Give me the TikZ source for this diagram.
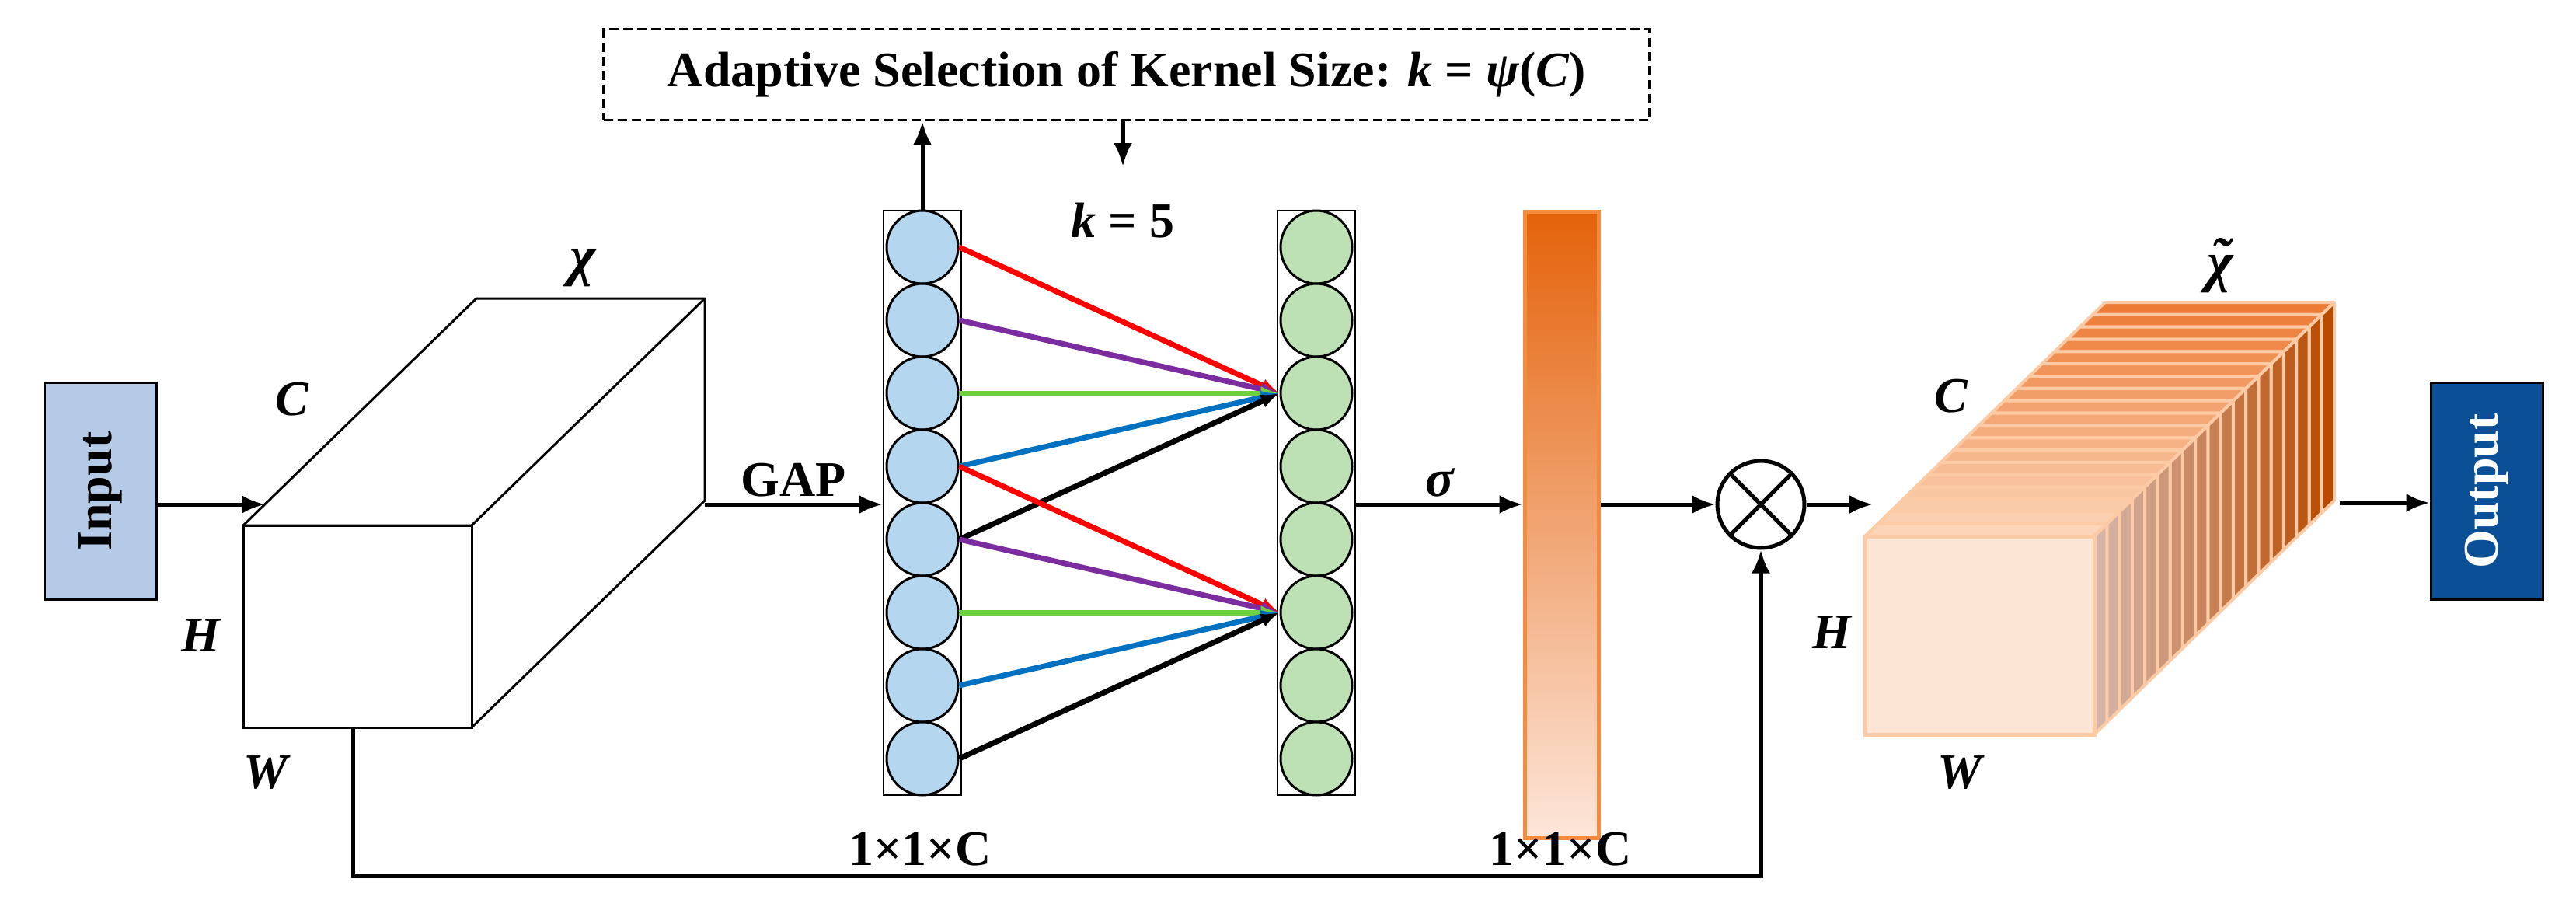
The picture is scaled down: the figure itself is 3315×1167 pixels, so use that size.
\documentclass[tikz,border=0pt]{standalone}
\usepackage{fontspec}
\setmainfont{Liberation Serif}
\usetikzlibrary{arrows.meta,shapes.geometric}
\definecolor{inblue}{HTML}{B4CAE6}
\definecolor{outblue}{HTML}{0B4F96}
\definecolor{cblue}{HTML}{B4D6EF}
\definecolor{cgreen}{HTML}{BDE1B4}
\definecolor{obar}{HTML}{F58B3F}
\definecolor{otop}{HTML}{E4620A}
\definecolor{obot}{HTML}{FDE6DA}
\definecolor{peach}{HTML}{FCCBA6}
\definecolor{pfront}{HTML}{FDE5D6}
\definecolor{sfront}{HTML}{D4B5A8}
\definecolor{sback}{HTML}{B94A00}
\definecolor{tfront}{HTML}{FCD5B8}
\definecolor{tback}{HTML}{EC7B35}
\definecolor{lpurple}{HTML}{7B2C9E}
\definecolor{lgreen}{HTML}{6FCF3F}
\definecolor{lblue}{HTML}{0070C0}
\begin{document}
\begin{tikzpicture}[x=1pt,y=-1pt,
  lbl/.style={font=\fontsize{64}{70}\selectfont\bfseries},
  ilbl/.style={font=\fontsize{64}{70}\selectfont\bfseries\itshape},
  arr/.style={line width=5, -{Latex[length=30,width=24]}},
  carr/.style={line width=7, -{Latex[length=24,width=18]}},
  circ/.style={ellipse, draw, line width=3, minimum width=92, minimum height=94, inner sep=0}]
\useasboundingbox (0,0) rectangle (3315,1167);
% Input / Output
\node[draw, line width=3, fill=inblue, minimum width=279, minimum height=144, inner sep=0, lbl, rotate=90] (in) at (129,632) {Input};
\node[draw, line width=3, fill=outblue, minimum width=279, minimum height=144, inner sep=0, lbl, rotate=90, text=white] (out) at (3200,632) {Output};
% grey cuboid
\draw[line width=3, fill=white, line join=round] (313,676) -- (613,384) -- (907,384) -- (907,644) -- (607,936) -- (607,676) -- cycle;
\draw[line width=3] (607,676) -- (907,384);
\draw[line width=3, fill=white] (313,676) rectangle (607,936);
\coordinate (cubin) at (341,649);
\coordinate (cubout) at (907,649);
\coordinate (cubbot) at (454,936);
\node[ilbl, font=\fontsize{72}{80}\selectfont\bfseries\itshape] at (750,345) {χ};
\node[ilbl] at (376,514) {C};
\node[ilbl] at (258,818) {H};
\node[ilbl] at (342,994) {W};
\draw[arr] (in.south |- cubin) -- (cubin);
% columns
\node[draw, line width=2.5, minimum width=100, minimum height=752, inner sep=0] (bcol) at (1187,647) {};
\node[draw, line width=2.5, minimum width=100, minimum height=752, inner sep=0] (gcol) at (1694,647) {};
\foreach \i in {0,...,7}{
  \node[circ, fill=cblue] (b\i) at (1187,{318+94*\i}) {};
  \node[circ, fill=cgreen] (g\i) at (1694,{318+94*\i}) {};
}
\draw[arr] (cubout) -- (bcol.west |- cubout) node[lbl, midway, above=4] {GAP};
% connections
\foreach \s/\c in {0/red,1/lpurple,2/lgreen,3/lblue,4/black}{
  \draw[carr, \c] (b\s.east) -- (g2.west);
}
\foreach \s/\c in {3/red,4/lpurple,5/lgreen,6/lblue,7/black}{
  \draw[carr, \c] (b\s.east) -- (g5.west);
}
% dashed box
\node[draw, dashed, dash pattern=on 12 off 6, line width=3.5, minimum width=1346, minimum height=117, inner sep=0, lbl] (box) at (1450,96) {Adaptive Selection of Kernel Size: \textit{k} = \textit{ψ}(\textit{C})};
\draw[arr] (bcol.north) -- (bcol.north |- box.south);
\coordinate (kd) at (1445,214);
\draw[arr] (box.south -| kd) -- (kd);
\node[lbl] at (1445,284) {\textit{k} = 5};
% orange bar
\shade[top color=otop, bottom color=obot] (1962,272) rectangle (2057,1078);
\node[draw=obar, line width=5, minimum width=95, minimum height=806, inner sep=0] (bar) at (2009.5,675) {};
\draw[arr] (gcol.east |- cubout) -- (bar.west |- cubout) node[midway, above=4, font=\fontsize{68}{70}\selectfont\bfseries\itshape] {σ};
% otimes
\node[circle, draw, line width=5, minimum size=112, inner sep=0] (ot) at (2266,649) {};
\draw[line width=5] (ot.north west) -- (ot.south east) (ot.north east) -- (ot.south west);
\draw[arr] (bar.east |- cubout) -- (ot.west);
\draw[arr] (cubbot) -- (454,1127) -- (2266,1127) -- (ot.south);
\node[lbl] at (1184,1093) {1×1×C};
\node[lbl] at (2008,1093) {1×1×C};
% orange cuboid
\pgfmathsetmacro{\dx}{309/19}
\pgfmathsetmacro{\dy}{-301/19}
\foreach \i in {18,...,0}{
  \pgfmathsetmacro{\p}{100*\i/18}
  \colorlet{sc}{sback!\p!sfront}
  \colorlet{tc}{tback!\p!tfront}
  \pgfmathsetmacro{\ax}{\i*\dx}\pgfmathsetmacro{\ay}{\i*\dy}
  \pgfmathsetmacro{\bx}{(\i+1)*\dx}\pgfmathsetmacro{\by}{(\i+1)*\dy}
  \draw[peach, line width=4, fill=tc, line join=round] (2400+\ax,690+\ay) -- (2400+\bx,690+\by) -- (2695+\bx,690+\by) -- (2695+\ax,690+\ay) -- cycle;
  \draw[peach, line width=4, fill=sc, line join=round] (2695+\ax,690+\ay) -- (2695+\bx,690+\by) -- (2695+\bx,945+\by) -- (2695+\ax,945+\ay) -- cycle;
}
\draw[peach, line width=5, fill=pfront] (2400,690) rectangle (2695,945);
\coordinate (ocin) at (2410,649);
\coordinate (ocout) at (3011,647);
\draw[arr] (ot.east) -- (ocin);
\draw[arr] (ocout) -- (out.north |- ocout);
\node[ilbl, font=\fontsize{72}{80}\selectfont\bfseries\itshape] at (2857,345) {\ooalign{χ\cr\hidewidth\raisebox{0.08em}{\char"02DC}\hidewidth}};
\node[ilbl] at (2511,510) {C};
\node[ilbl] at (2357,814) {H};
\node[ilbl] at (2522,994) {W};
\end{tikzpicture}
\end{document}
